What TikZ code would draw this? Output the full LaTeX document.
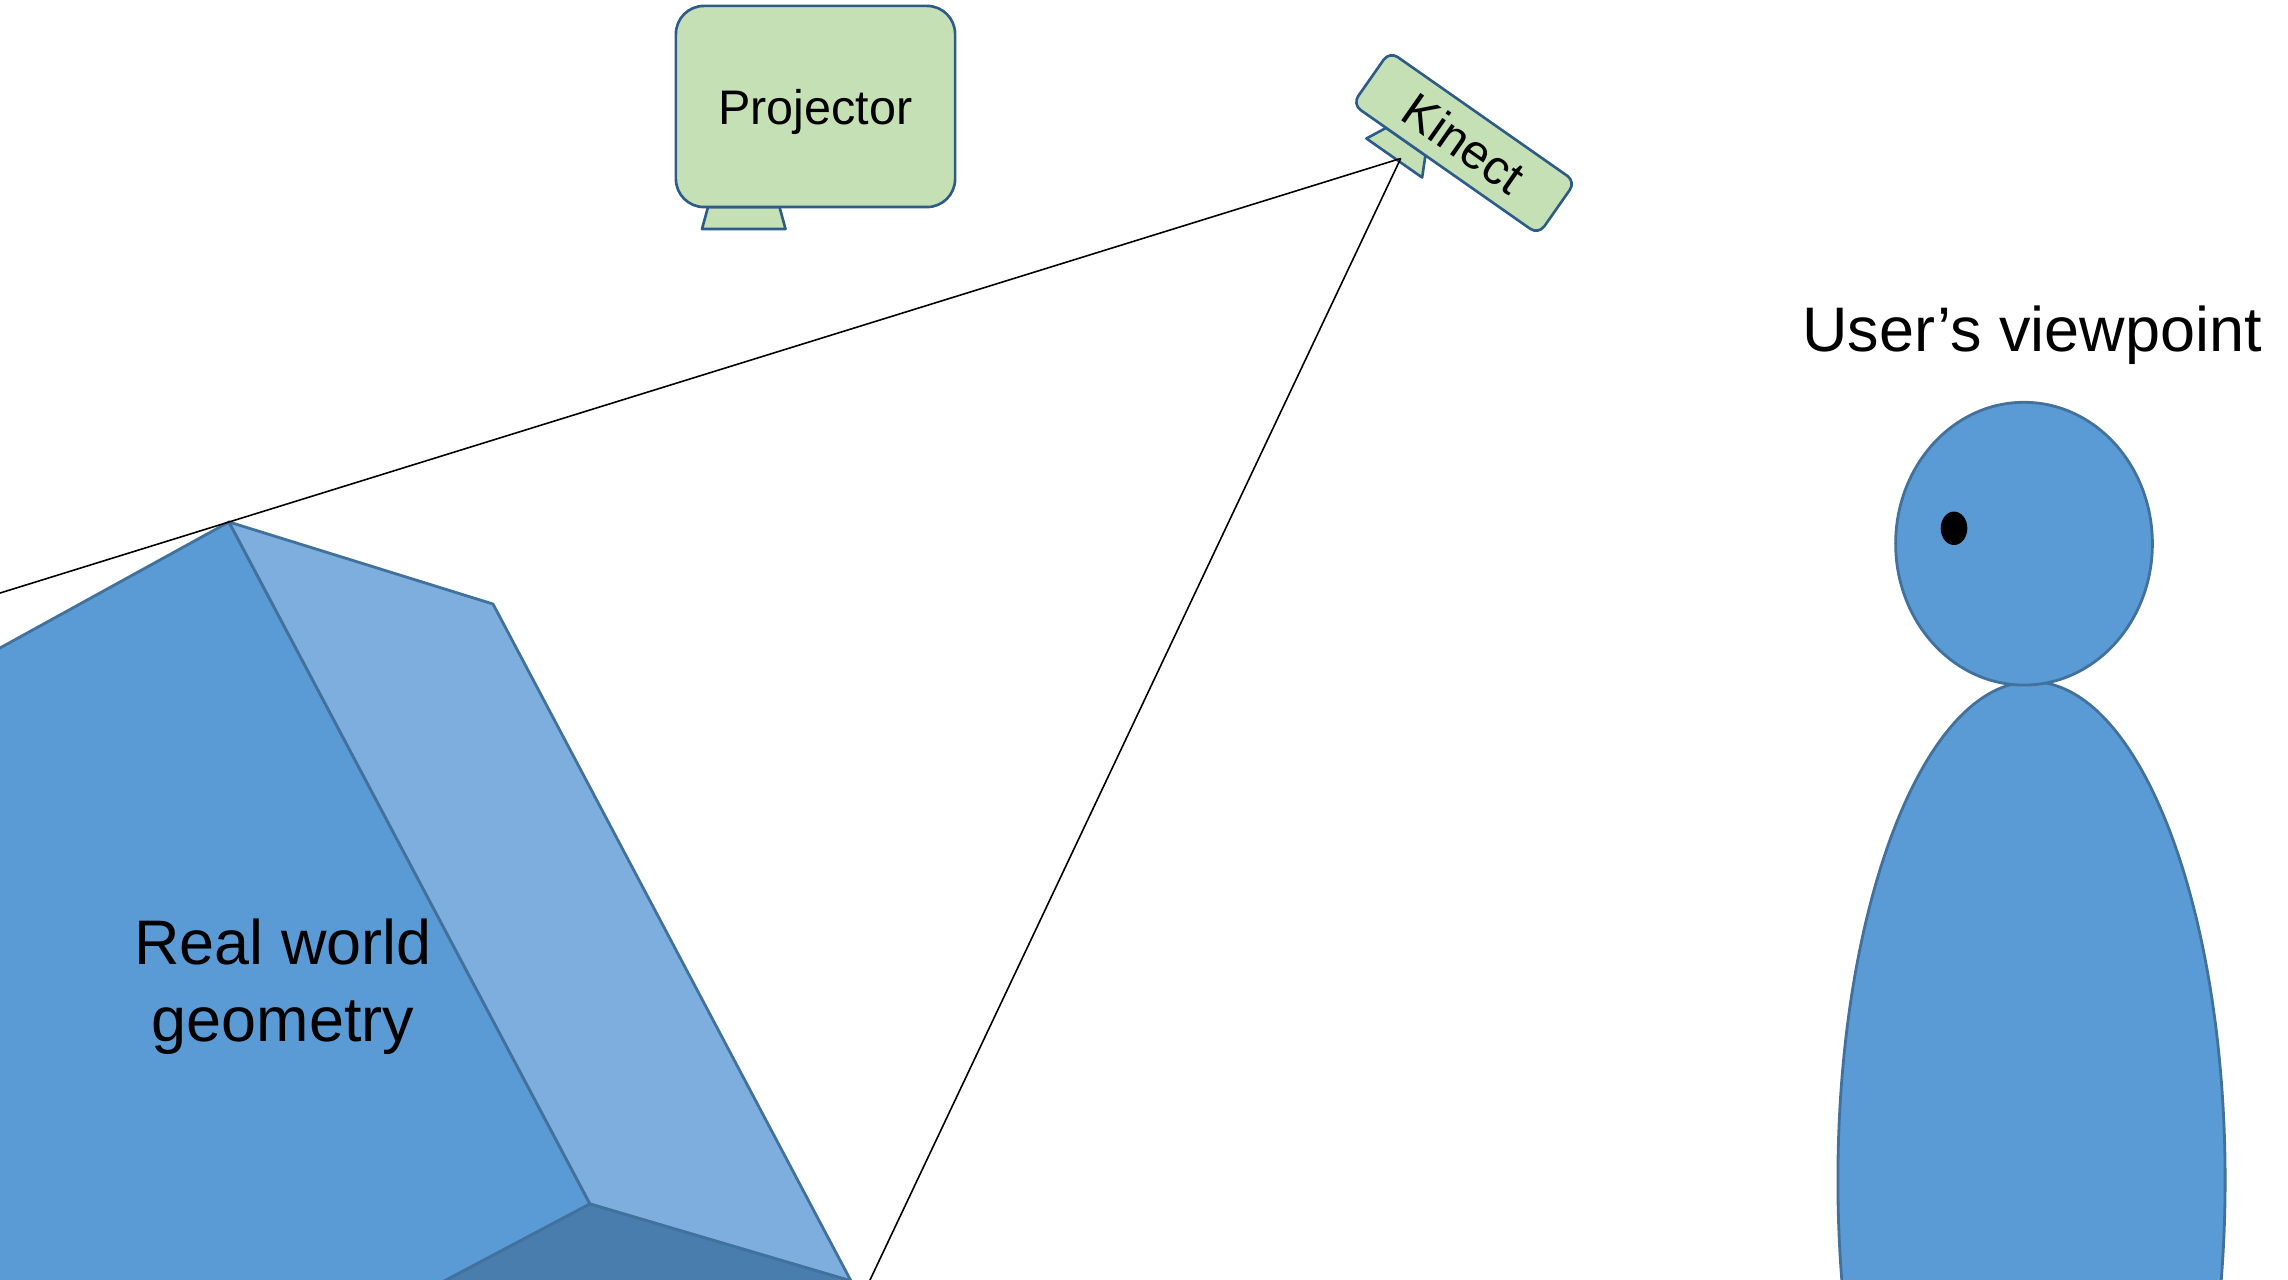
\documentclass[tikz,border=0pt]{standalone}
\usepackage{fontspec}
\setmainfont{Liberation Sans}
\usetikzlibrary{shapes.geometric,calc}

\definecolor{faceL}{HTML}{5B9BD5}
\definecolor{faceR}{HTML}{7DAEDD}
\definecolor{faceB}{HTML}{497DAD}
\definecolor{edgeblue}{HTML}{41719C}
\definecolor{devfill}{HTML}{C5E0B4}
\definecolor{devline}{HTML}{2E5C8A}

\begin{document}
\begin{tikzpicture}[x=0.01cm, y=-0.01cm,
  face/.style={draw=edgeblue, line width=0.8pt, line join=round},
  device/.style={draw=devline, fill=devfill, line width=0.75pt, inner sep=0pt,
    font=\fontsize{13.8}{16}\selectfont, text depth=0pt},
  devfoot/.style={draw=devline, fill=devfill, line width=0.75pt, line join=round},
  figure/.style={ellipse, draw=edgeblue, fill=faceL, line width=0.8pt, inner sep=0pt},
  ray/.style={draw=black, line width=0.45pt},
  label/.style={font=\fontsize{17.9}{21.8}\selectfont, text=black}]

\useasboundingbox (0,0) rectangle (2288,1280);
\clip (0,0) rectangle (2288,1280);

% --- block of real-world geometry (three visible faces)
\coordinate (T)  at (229,522);
\coordinate (R)  at (493,604);
\coordinate (RB) at (851,1281);
\coordinate (M)  at (590,1204);
\coordinate (LT) at (-30,664.5);
\coordinate (LB) at (-30,1340);
\coordinate (BL) at (333,1340);
\coordinate (BR) at (882,1340);

\draw[face, fill=faceL] (T) -- (LT) -- (LB) -- (BL) -- (M) -- cycle;
\draw[face, fill=faceR] (T) -- (R) -- (RB) -- (M) -- cycle;
\draw[face, fill=faceB] (M) -- (RB) -- (BR) -- (BL) -- cycle;

\node[label, align=center] (geo) at (283,987) {Real world\\geometry};

% --- projector
\draw[devfoot] (708,207) -- (779.5,207) -- (785.5,229) -- (702,229) -- cycle;
\node[device, rounded corners=0.28cm, minimum width=2.79cm, minimum height=2.01cm]
  (proj) at (815.5,106.5) {Projector};

% --- Kinect sensor, tilted, with its stand
\begin{scope}[shift={(1464,143)}, rotate=-35]
  \draw[devfoot] (-72.5,32.3) -- (-24.5,32.3) -- (-14.5,52.3) -- (-82.5,52.3) -- cycle;
  \coordinate (kin) at (-43,49);
\end{scope}
\node[device, rounded corners=0.1cm, rotate=-35, minimum width=2.27cm, minimum height=0.646cm]
  (kinect) at (1464,143) {Kinect};

% --- sensor rays
\coordinate (floor) at (870,1280);
\draw[ray] (kin) -- ($(kin)!1.25!(T)$);
\draw[ray] (kin) -- ($(kin)!1.05!(floor)$);

% --- user
\node[figure, minimum width=3.87cm, minimum height=9.96cm] (body) at (2031.5,1180) {};
\node[figure, minimum width=2.566cm, minimum height=2.826cm] (head) at (2024,543.7) {};
\node[ellipse, fill=black, minimum width=0.266cm, minimum height=0.334cm, inner sep=0pt]
  (eye) at (1954,528.3) {};
\node[label, anchor=base] (view) at (2032,352) {User’s viewpoint};

\end{tikzpicture}
\end{document}
